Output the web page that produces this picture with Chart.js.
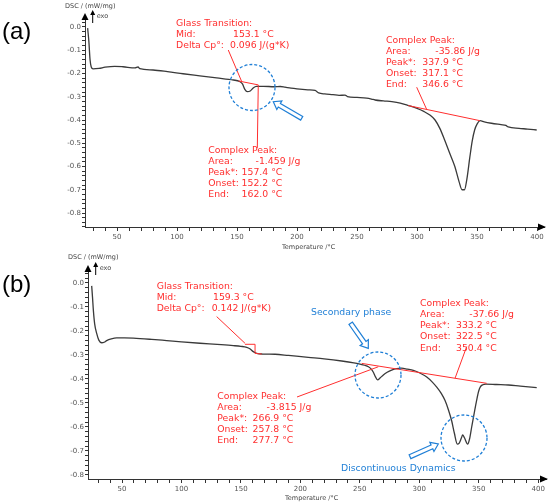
<!DOCTYPE html>
<html><head><meta charset="utf-8">
<script src="https://cdn.jsdelivr.net/npm/chart.js@4.4.1/dist/chart.umd.min.js"></script>
<style>
html,body{margin:0;padding:0;background:#fff;width:550px;height:504px;overflow:hidden}
canvas{position:absolute;left:0}
#ca{top:0}
#cb{top:250px}
</style></head><body>
<canvas id="ca" width="550" height="250"></canvas>
<canvas id="cb" width="550" height="254"></canvas>
<script>
// ---------- data (a) ----------
const tempA = [25.5,26.5,27.5,28.5,30,35,40,48,55,65,67.5,69,80,92,105,119,133,147,152,154.5,156.5,158.5,161,163.5,166,172,181,186,190,195,200,209,215,218,223,230,235,240,242,250,258,262,265,272,279,286,293,300,306,311,315,319,323,327,331.5,335,337.5,339.5,341.5,344,346,348,350,352.5,356,362,370,374,376,385,392,399.7];
const dscA  = [-0.005,-0.06,-0.14,-0.172,-0.18,-0.178,-0.173,-0.169,-0.171,-0.176,-0.172,-0.179,-0.185,-0.192,-0.201,-0.21,-0.219,-0.228,-0.234,-0.245,-0.268,-0.278,-0.275,-0.262,-0.255,-0.255,-0.257,-0.256,-0.259,-0.263,-0.266,-0.27,-0.273,-0.283,-0.288,-0.291,-0.294,-0.293,-0.299,-0.303,-0.306,-0.31,-0.314,-0.318,-0.321,-0.327,-0.338,-0.35,-0.364,-0.38,-0.4,-0.436,-0.486,-0.54,-0.6,-0.665,-0.7,-0.7,-0.655,-0.56,-0.49,-0.443,-0.418,-0.403,-0.408,-0.414,-0.42,-0.423,-0.43,-0.436,-0.439,-0.443];
// ---------- data (b) ----------
const tempB = [24.5,25.2,25.9,27,28.7,30.5,32.9,35,37.1,41,45.5,52,59.5,75,87.6,100,115.6,130,143.6,150,154.9,157.5,160.4,163.3,168,178.7,190,206.7,220,234.8,245,251.6,255,257.2,259.5,261.4,263.3,265,267,269.8,273,276.8,281,285.2,290,295,300.5,306.3,311,314.7,318.5,321.7,324.5,327.3,329.5,332,333.5,335.5,336.5,338,340.7,342.3,344.1,346.3,348.3,350,351.5,353.5,356,365,375,385,398.8];
const dscB  = [-0.012,-0.06,-0.113,-0.17,-0.21,-0.238,-0.249,-0.247,-0.24,-0.233,-0.229,-0.229,-0.23,-0.235,-0.24,-0.245,-0.251,-0.256,-0.261,-0.264,-0.268,-0.274,-0.286,-0.293,-0.296,-0.297,-0.302,-0.31,-0.316,-0.325,-0.333,-0.34,-0.344,-0.349,-0.358,-0.372,-0.392,-0.404,-0.396,-0.383,-0.372,-0.363,-0.357,-0.355,-0.359,-0.364,-0.375,-0.392,-0.413,-0.434,-0.46,-0.49,-0.528,-0.575,-0.625,-0.671,-0.668,-0.645,-0.633,-0.645,-0.671,-0.65,-0.6,-0.54,-0.488,-0.45,-0.432,-0.424,-0.421,-0.423,-0.425,-0.43,-0.436];

// tick settings
const xTickStep = 10, xLabelEvery = 50;
const yTickStep = 0.02;

// text
const yTitle = 'DSC / (mW/mg)';
const xTitle = 'Temperature /°C';
const exoText = 'exo';

const RED = '#ff2e2e', BLUE = '#1f7fd6', LINE = '#3a3a3a', AX = '#333';
const FONT = '"DejaVu Sans", Verdana, sans-serif';
Chart.defaults.font.family = FONT;

function pts(xs, ys){ return xs.map((x,i)=>({x:x, y:ys[i]})); }

function hollowArrow(ctx, x0,y0,x1,y1){
  const dx=x1-x0, dy=y1-y0, L=Math.hypot(dx,dy), ux=dx/L, uy=dy/L, nx=-uy, ny=ux;
  const w=2.1, hw=5, hl=7;
  const bx=x1-ux*hl, by=y1-uy*hl;
  ctx.beginPath();
  ctx.moveTo(x0+nx*w,y0+ny*w);
  ctx.lineTo(bx+nx*w,by+ny*w);
  ctx.lineTo(bx+nx*hw,by+ny*hw);
  ctx.lineTo(x1,y1);
  ctx.lineTo(bx-nx*hw,by-ny*hw);
  ctx.lineTo(bx-nx*w,by-ny*w);
  ctx.lineTo(x0-nx*w,y0-ny*w);
  ctx.closePath();
  ctx.fillStyle='#fff'; ctx.fill();
  ctx.strokeStyle=BLUE; ctx.lineWidth=1.2; ctx.setLineDash([]); ctx.stroke();
}

function decor(spec){
  return {
    id:'decor',
    afterDraw(chart){
      const ctx=chart.ctx, xs=chart.scales.x, ys=chart.scales.y, ca=chart.chartArea;
      const px=v=>xs.getPixelForValue(v), py=v=>ys.getPixelForValue(v);
      ctx.save();
      // axis arrowheads
      ctx.fillStyle='#000';
      ctx.beginPath(); ctx.moveTo(ca.left, ca.top-7); ctx.lineTo(ca.left-3.5, ca.top); ctx.lineTo(ca.left+3.5, ca.top); ctx.closePath(); ctx.fill();
      ctx.beginPath(); ctx.moveTo(ca.right+2, ca.bottom); ctx.lineTo(ca.right-6, ca.bottom-3.5); ctx.lineTo(ca.right-6, ca.bottom+3.5); ctx.closePath(); ctx.fill();
      // exo arrow
      const ex=ca.left+7.7;
      ctx.strokeStyle='#000'; ctx.lineWidth=1;
      ctx.beginPath(); ctx.moveTo(ex, ca.top-8); ctx.lineTo(ex, ca.top+3); ctx.stroke();
      ctx.beginPath(); ctx.moveTo(ex, ca.top-10); ctx.lineTo(ex-2.5, ca.top-5); ctx.lineTo(ex+2.5, ca.top-5); ctx.closePath(); ctx.fill();
      ctx.fillStyle='#444'; ctx.font='6.5px '+FONT; ctx.textBaseline='middle'; ctx.textAlign='left';
      ctx.fillText(exoText, ex+4, ca.top-4);
      ctx.fillText(yTitle, spec.yTitleX, spec.yTitleY);
      ctx.fillText(xTitle, spec.xTitleX, spec.xTitleY);
      // panel label
      ctx.fillStyle='#000'; ctx.font='24px "Liberation Sans", Arial, sans-serif';
      ctx.fillText(spec.panel, 2, spec.panelY);
      // red lines (data coords)
      ctx.strokeStyle=RED; ctx.lineWidth=1;
      spec.redLines.forEach(l=>{
        ctx.beginPath();
        l.forEach((p,i)=>{ const X=px(p[0]), Y=py(p[1]); i?ctx.lineTo(X,Y):ctx.moveTo(X,Y); });
        ctx.stroke();
      });
      // red text blocks
      ctx.font='9.3px '+FONT; ctx.fillStyle=RED; ctx.textBaseline='middle';
      spec.blocks.forEach(b=>{
        b.lines.forEach((ln,i)=>{
          const y=b.y0+i*b.dy;
          ctx.textAlign='left'; ctx.fillText(ln[0], b.x, y);
          if(ln[1]){
            if(ln[2]==='L'){ ctx.textAlign='left'; ctx.fillText(ln[1], b.x+ln[3], y); }
            else { ctx.textAlign='right'; ctx.fillText(ln[1], b.x+ln[3], y); }
          }
        });
      });
      // blue circles
      ctx.strokeStyle=BLUE; ctx.lineWidth=1.3; ctx.setLineDash([3,2]);
      spec.circles.forEach(c=>{ ctx.beginPath(); ctx.arc(c[0],c[1],c[2],0,Math.PI*2); ctx.stroke(); });
      ctx.setLineDash([]);
      spec.arrows.forEach(a=>hollowArrow(ctx,a[0],a[1],a[2],a[3]));
      ctx.fillStyle=BLUE; ctx.textAlign='left'; ctx.font='9.3px '+FONT;
      spec.blueTexts.forEach(t=>ctx.fillText(t[0],t[1],t[2]));
      ctx.restore();
    }
  };
}

function makeChart(id, xsArr, ysArr, xr, yr, area, spec){
  const canvas=document.getElementById(id);
  return new Chart(canvas, {
    type:'line',
    data:{datasets:[{data:pts(xsArr,ysArr), borderColor:LINE, borderWidth:1.3, pointRadius:0, cubicInterpolationMode:'monotone', fill:false}]},
    options:{
      responsive:false, animation:false, events:[],
      layout:{padding:{left:0, top:area.top, right:canvas.width-area.right, bottom:0}},
      plugins:{legend:{display:false}, tooltip:{enabled:false}},
      scales:{
        x:{type:'linear', min:xr[0], max:xr[1],
          ticks:{stepSize:xTickStep, includeBounds:false, autoSkip:false, maxRotation:0, padding:2, color:'#555', font:{size:7},
            callback:v=> (Math.abs(v % xLabelEvery) < 1e-6 ? String(v) : '')},
          grid:{drawOnChartArea:false, drawTicks:true, tickLength:4, tickColor:AX},
          border:{display:true, color:AX, width:1},
          afterFit:s=>{ s.height = canvas.height - area.bottom; }
        },
        y:{type:'linear', min:yr[0], max:yr[1],
          ticks:{stepSize:yTickStep, includeBounds:false, autoSkip:false, padding:1, color:'#555', font:{size:7},
            callback:v=>{ const r=Math.round(v*10)/10; return Math.abs(v-r)<1e-6 ? (r===0?'0.0':r.toFixed(1)) : ''; }},
          grid:{drawOnChartArea:false, drawTicks:true, tickLength:3, tickColor:AX},
          border:{display:true, color:AX, width:1},
          afterFit:s=>{ s.width = area.left; }
        }
      }
    },
    plugins:[decor(spec)]
  });
}

// panel (a)
makeChart('ca', tempA, dscA, [23.3, 405.8], [-0.8602, 0.0301], {left:85, top:20, right:544, bottom:227}, {
  panel:'(a)', panelY:32, yTitleX:65, yTitleY:6, xTitleX:282, xTitleY:247,
  redLines:[
    [[142.7,-0.099],[153.9,-0.235]],
    [[151.1,-0.232],[167.7,-0.249]],
    [[166.9,-0.52],[167.7,-0.249]],
    [[292.7,-0.338],[352.5,-0.403]],
    [[299.7,-0.259],[308,-0.354]]
  ],
  blocks:[
    {x:176, y0:24, dy:10.7, lines:[['Glass Transition:'],['Mid:','153.1 °C','L',57],['Delta Cp°:','0.096 J/(g*K)','L',54]]},
    {x:208.3, y0:150.7, dy:10.9, lines:[['Complex Peak:'],['Area:','-1.459 J/g','R',92],['Peak*:','157.4 °C','R',74],['Onset:','152.2 °C','R',74],['End:','162.0 °C','R',74]]},
    {x:386, y0:40.7, dy:10.9, lines:[['Complex Peak:'],['Area:','-35.86 J/g','R',94],['Peak*:','337.9 °C','R',77],['Onset:','317.1 °C','R',77],['End:','346.6 °C','R',77]]}
  ],
  circles:[[252,87.5,23]],
  arrows:[[301.7,118.3,273.3,101.7]],
  blueTexts:[]
});

// panel (b)
makeChart('cb', tempB, dscB, [21.4, 406.6], [-0.8167, 0.0458], {left:88, top:22, right:546, bottom:229}, {
  panel:'(b)', panelY:35, yTitleX:68, yTitleY:7, xTitleX:285, xTitleY:248,
  redLines:[
    [[129.6,-0.14],[153.4,-0.251]],
    [[153.4,-0.2554],[161.9,-0.2554],[161.9,-0.293],[167.5,-0.296]],
    [[197.2,-0.475],[265.6,-0.349]],
    [[251.6,-0.335],[356.7,-0.418]],
    [[339.9,-0.265],[330.1,-0.397]]
  ],
  blocks:[
    {x:156.7, y0:36.7, dy:11.1, lines:[['Glass Transition:'],['Mid:','159.3 °C','L',56.3],['Delta Cp°:','0.142 J/(g*K)','L',55]]},
    {x:217.3, y0:146.7, dy:10.9, lines:[['Complex Peak:'],['Area:','-3.815 J/g','R',94],['Peak*:','266.9 °C','R',76],['Onset:','257.8 °C','R',76],['End:','277.7 °C','R',76]]},
    {x:420, y0:53.3, dy:11.2, lines:[['Complex Peak:'],['Area:','-37.66 J/g','R',94],['Peak*:','333.2 °C','R',76.7],['Onset:','322.5 °C','R',76.7],['End:','350.4 °C','R',76.7]]}
  ],
  circles:[[378,125,23],[464,188,23]],
  arrows:[[350.7,73.3,368.3,98.3],[410,206.7,438.3,194]],
  blueTexts:[['Secondary phase',311,62.7],['Discontinuous Dynamics',341,218.7]]
});
</script>
</body></html>
